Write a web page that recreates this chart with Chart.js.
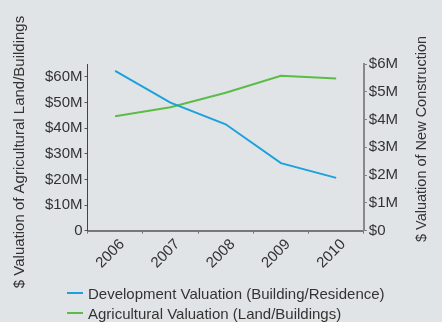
<!DOCTYPE html>
<html>
<head>
<meta charset="utf-8">
<script src="https://cdn.jsdelivr.net/npm/chart.js@4"></script>
<style>
  html, body { margin: 0; padding: 0; background: #e1e4e7; }
  #wrap { position: relative; width: 442px; height: 322px; }
  #legend { position: absolute; left: 67px; top: 283px; font: 15px "Liberation Sans", Arial, sans-serif; color: #333; }
  .item { display: flex; align-items: center; height: 20px; white-space: nowrap; }
  .swatch { width: 16px; height: 2px; margin-right: 5px; }
</style>
</head>
<body>
<div id="wrap">
  <canvas id="valChart" width="442" height="322"></canvas>
  <div id="legend"></div>
</div>
<script>
const years = ['2006', '2007', '2008', '2009', '2010'];
// new construction, $ millions (right axis)
const developmentValues = [5.75, 4.61, 3.83, 2.43, 1.90];
// agricultural land/buildings, $ millions (left axis)
const agriculturalValues = [44.6, 48.1, 53.8, 60.4, 59.3];
const leftTicks = [0, 10, 20, 30, 40, 50, 60];
const rightTicks = [0, 1, 2, 3, 4, 5, 6];
const leftTitle = '$ Valuation of Agricultural Land/Buildings';
const rightTitle = '$ Valuation of New Construction';

const textFont = { family: '"Liberation Sans", Arial, sans-serif', size: 15 };

// both axis titles read bottom-to-top, so draw them here instead of scale.title
const axisTitles = {
  id: 'axisTitles',
  afterDraw(chart) {
    const { ctx, chartArea } = chart;
    ctx.save();
    ctx.fillStyle = '#333';
    ctx.textAlign = 'center';
    ctx.textBaseline = 'middle';
    [[leftTitle, chartArea.left - 68, 152, 15], [rightTitle, chartArea.right + 58, 139, 14.5]].forEach(([t, x, y, size]) => {
      ctx.save();
      ctx.font = `${size}px ${textFont.family}`;
      ctx.translate(x, y);
      ctx.rotate(-Math.PI / 2);
      ctx.fillText(t, 0, 0);
      ctx.restore();
    });
    ctx.restore();
  }
};

const valChart = new Chart(document.getElementById('valChart'), {
  type: 'line',
  data: {
    labels: years,
    datasets: [{
      label: 'Development Valuation (Building/Residence)',
      data: developmentValues,
      yAxisID: 'y1',
      borderColor: '#1ba1dc',
      borderWidth: 2,
      pointRadius: 0,
      tension: 0
    }, {
      label: 'Agricultural Valuation (Land/Buildings)',
      data: agriculturalValues,
      yAxisID: 'y',
      borderColor: '#5bbd47',
      borderWidth: 2,
      pointRadius: 0,
      tension: 0
    }]
  },
  plugins: [axisTitles],
  options: {
    responsive: false,
    animation: false,
    layout: { padding: { left: 43, right: 42, top: 64, bottom: 48 } },
    plugins: { legend: { display: false }, tooltip: { enabled: false } },
    scales: {
      x: {
        offset: true,
        grid: { drawOnChartArea: false, offset: true, tickLength: 3, color: '#777' },
        border: { color: '#777', width: 2 },
        ticks: { color: '#333', font: textFont, minRotation: 45, maxRotation: 45, padding: 2, labelOffset: 7 }
      },
      y: {
        position: 'left',
        min: 0,
        max: 65,
        afterBuildTicks: s => { s.ticks = leftTicks.map(v => ({ value: v })); },
        grid: { drawOnChartArea: false, tickLength: 3, color: '#555' },
        border: { color: '#444', width: 1 },
        ticks: { color: '#333', font: textFont, padding: 2, callback: v => v === 0 ? '0' : '$' + v + 'M' }
      },
      y1: {
        position: 'right',
        min: 0,
        max: 6,
        afterBuildTicks: s => { s.ticks = rightTicks.map(v => ({ value: v })); },
        grid: { drawOnChartArea: false, tickLength: 3, color: '#777' },
        border: { color: '#888', width: 2 },
        ticks: { color: '#333', font: textFont, padding: 2, callback: v => '$' + v + (v === 0 ? '' : 'M') }
      }
    }
  }
});

// legend below the plot, one row per series
document.getElementById('legend').innerHTML = valChart.data.datasets.map(d => `
  <div class="item"><span class="swatch" style="background:${d.borderColor}"></span>${d.label}</div>
`).join('');
</script>
</body>
</html>
